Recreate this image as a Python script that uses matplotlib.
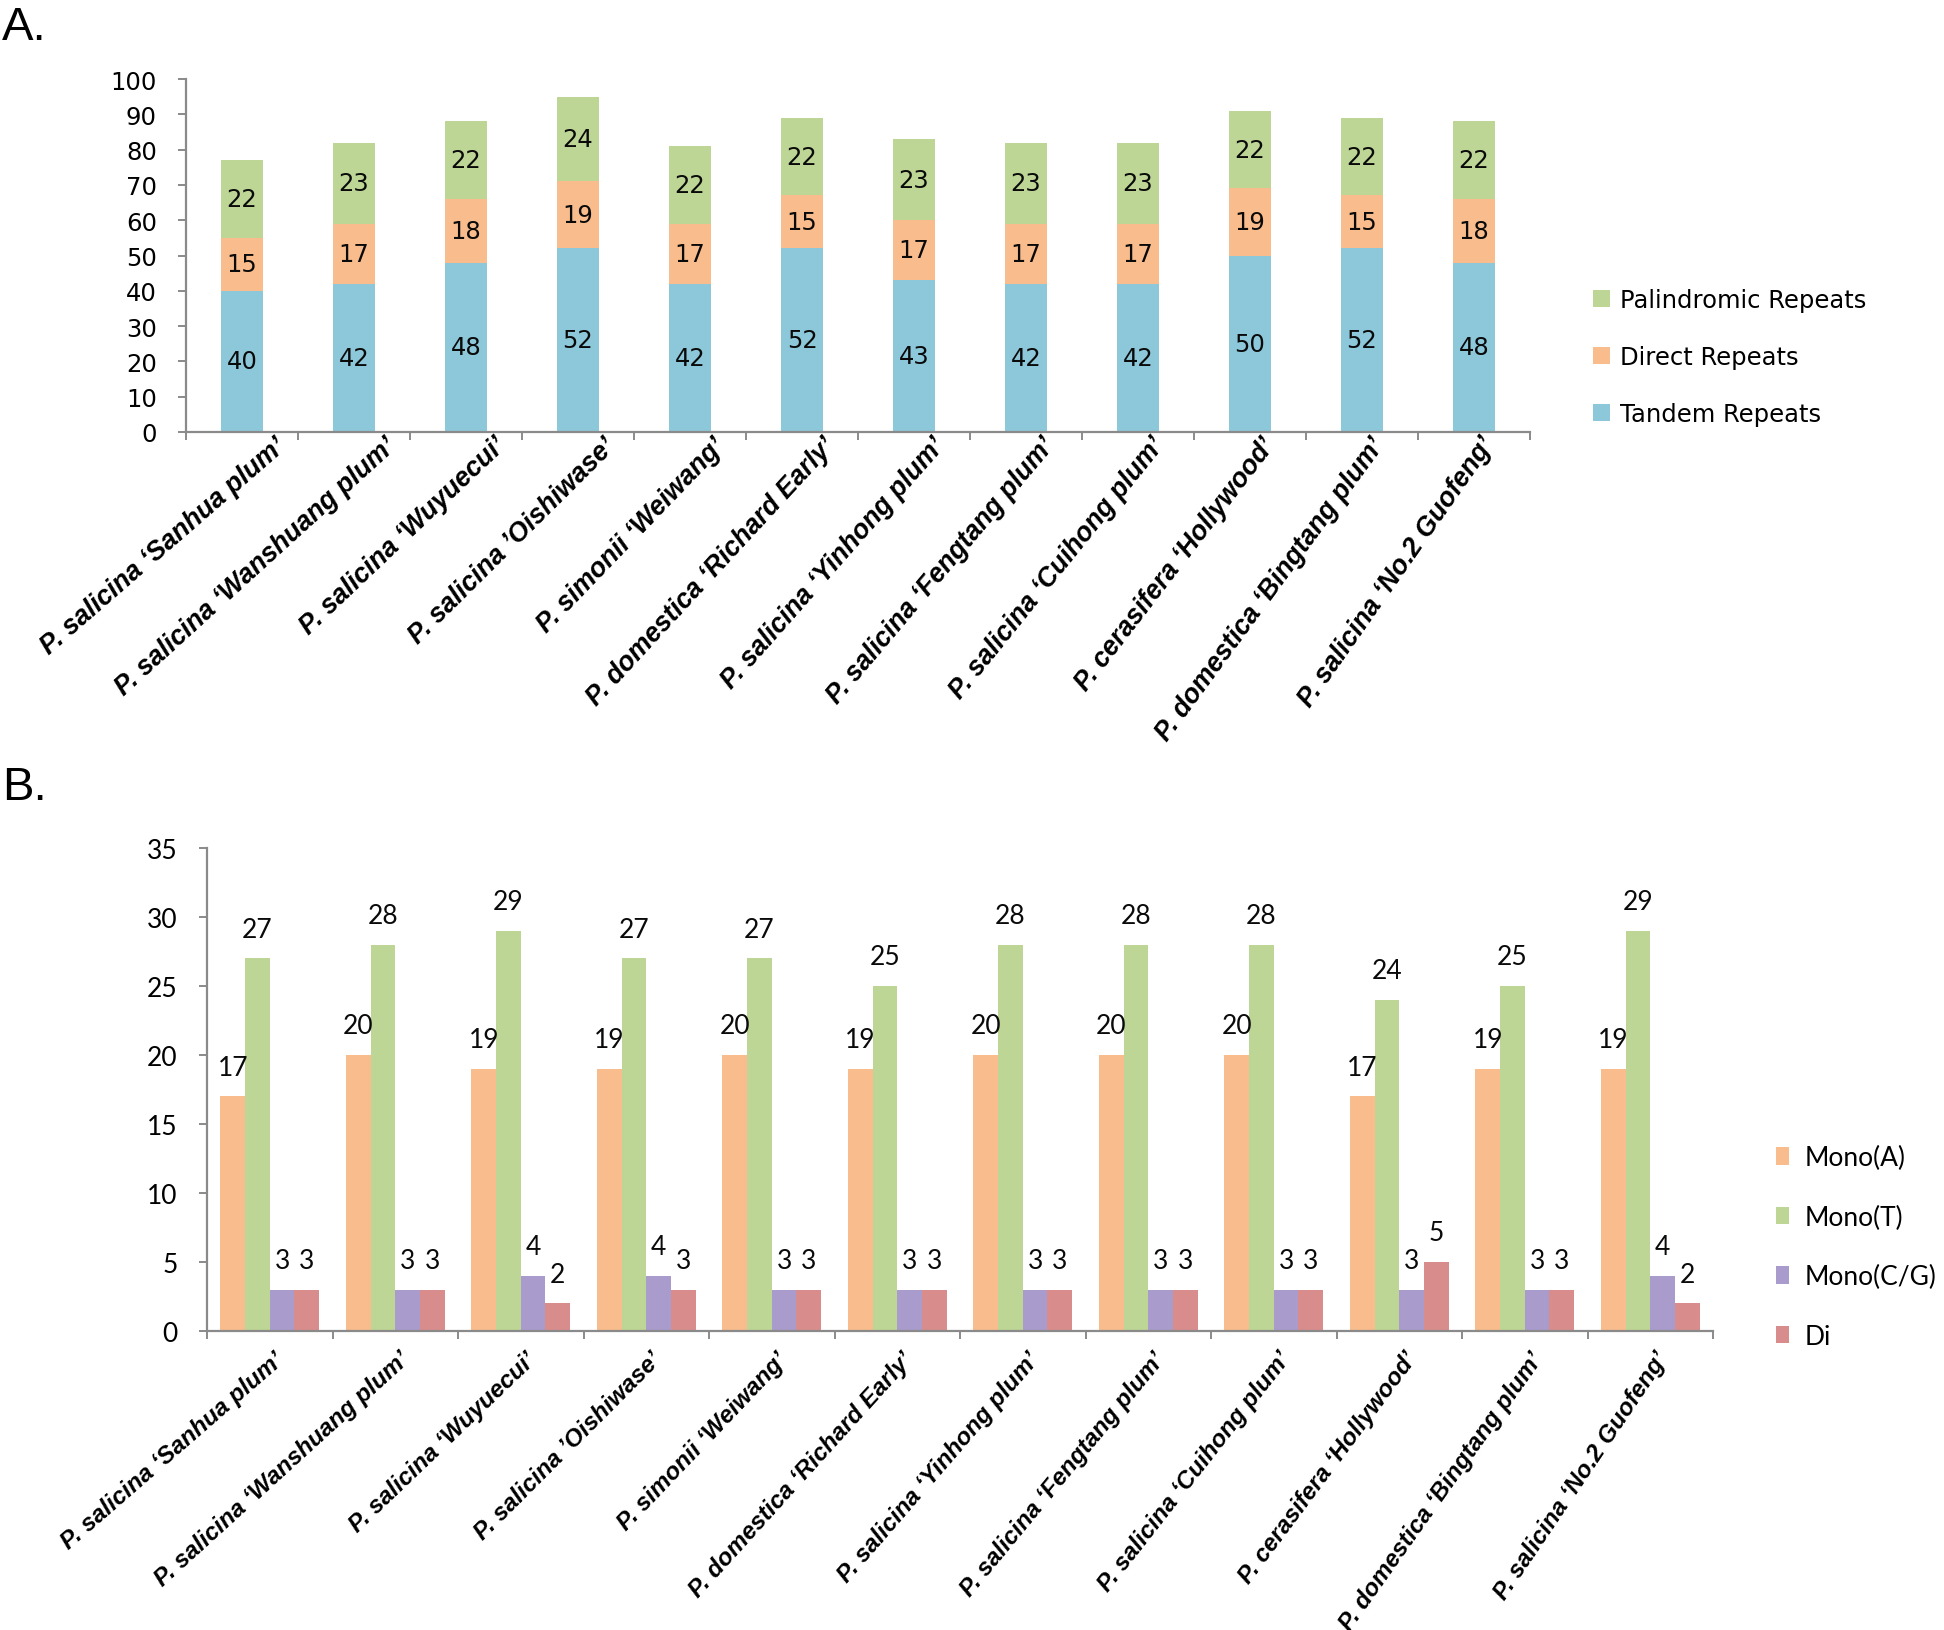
import numpy as np
import matplotlib.pyplot as plt
from matplotlib.transforms import ScaledTranslation

W, H = 1944, 1631

cultivars = ["P. salicina \u2018Sanhua plum\u2019",
             "P. salicina \u2018Wanshuang plum\u2019",
             "P. salicina \u2018Wuyuecui\u2019",
             "P. salicina \u2019Oishiwase\u2019",
             "P. simonii \u2018Weiwang\u2019",
             "P. domestica \u2018Richard Early\u2019",
             "P. salicina \u2018Yinhong plum\u2019",
             "P. salicina \u2018Fengtang plum\u2019",
             "P. salicina \u2018Cuihong plum\u2019",
             "P. cerasifera \u2018Hollywood\u2019",
             "P. domestica \u2018Bingtang plum\u2019",
             "P. salicina \u2018No.2 Guofeng\u2019"]

# panel A: repeat counts
tandem = [40, 42, 48, 52, 42, 52, 43, 42, 42, 50, 52, 48]
direct = [15, 17, 18, 19, 17, 15, 17, 17, 17, 19, 15, 18]
palin = [22, 23, 22, 24, 22, 22, 23, 23, 23, 22, 22, 22]

# panel B: SSR types
mono_a = [17, 20, 19, 19, 20, 19, 20, 20, 20, 17, 19, 19]
mono_t = [27, 28, 29, 27, 27, 25, 28, 28, 28, 24, 25, 29]
mono_cg = [3, 3, 4, 4, 3, 3, 3, 3, 3, 3, 3, 4]
di = [3, 3, 2, 3, 3, 3, 3, 3, 3, 5, 3, 2]

c_blue = "#8DC8DA"
c_orange = "#F9BC8C"
c_green = "#BDD595"
c_purple = "#A99BCC"
c_red = "#D98C8C"
axis_col = "#8a8a8a"

fig = plt.figure(figsize=(W / 100, H / 100), dpi=100)


def style_axes(ax):
    for s in ["top", "right"]:
        ax.spines[s].set_visible(False)
    for s in ["left", "bottom"]:
        ax.spines[s].set_color(axis_col)
        ax.spines[s].set_linewidth(1.6)
    ax.tick_params(axis="both", which="major", color=axis_col, width=1.4, length=6)
    ax.tick_params(axis="y", pad=15)
    ax.tick_params(axis="x", which="minor", length=0)


def set_cat_labels(ax, n, fsize, dx0, dx1, dy, ang0, ang1):
    ax.set_xticks(np.arange(n + 1))
    ax.set_xticklabels([])
    ax.set_xticks(np.arange(n) + 0.5, minor=True)
    labs = ax.set_xticklabels(cultivars, minor=True, ha="right", va="top",
                              rotation_mode="anchor", fontsize=fsize, style="italic",
                              weight="bold", family="Liberation Sans")
    ax.tick_params(axis="x", which="minor", pad=0)
    # the source picture is slightly skewed: labels get steeper to the right
    for k, t in enumerate(labs):
        f = k / (n - 1)
        t.set_rotation(ang0 + (ang1 - ang0) * f)
        dx = dx0 + (dx1 - dx0) * f
        off = ScaledTranslation(dx / 100, dy / 100, fig.dpi_scale_trans)
        t.set_transform(t.get_transform() + off)


# ---------------- A ----------------
axA = fig.add_axes([186 / W, 1 - 433 / H, 1344 / W, 353 / H])
x = np.arange(12) + 0.5
bw = 0.37
b1 = axA.bar(x, tandem, bw, color=c_blue, label="Tandem Repeats")
b2 = axA.bar(x, direct, bw, bottom=tandem, color=c_orange, label="Direct Repeats")
bot2 = np.array(tandem) + np.array(direct)
b3 = axA.bar(x, palin, bw, bottom=bot2, color=c_green, label="Palindromic Repeats")
for bars in (b1, b2, b3):
    axA.bar_label(bars, label_type="center", fontsize=17.5, family="DejaVu Sans",
                  color="#0a0a0a")
axA.set_xlim(0, 12)
axA.set_ylim(0, 100)
axA.set_yticks(np.arange(0, 101, 10))
style_axes(axA)
axA.tick_params(axis="y", labelsize=17.5)
for t in axA.get_yticklabels():
    t.set_family("DejaVu Sans")
set_cat_labels(axA, 12, 19.2, 32, 5, 0, 41, 55)
fig.legend(handles=[b3, b2, b1], loc="center left",
           bbox_to_anchor=(1571 / W, 1 - 358 / H), frameon=False,
           prop={"family": "DejaVu Sans", "size": 17.5},
           handlelength=0.7, handleheight=0.7, handletextpad=0.4, labelspacing=1.36)

# ---------------- B ----------------
axB = fig.add_axes([207 / W, 1 - 1332 / H, 1506 / W, 483 / H])
bw2 = 0.197
series = [(mono_a, c_orange, "Mono(A)"), (mono_t, c_green, "Mono(T)"),
          (mono_cg, c_purple, "Mono(C/G)"), (di, c_red, "Di")]
bhandles = []
for i, (vals, col, name) in enumerate(series):
    bb = axB.bar(x + (i - 1.5) * bw2, vals, bw2, color=col, label=name)
    axB.bar_label(bb, padding=12, fontsize=19, family="Lato", color="#0a0a0a")
    bhandles.append(bb)
axB.set_xlim(0, 12)
axB.set_ylim(0, 35)
axB.set_yticks(np.arange(0, 36, 5))
style_axes(axB)
axB.tick_params(axis="y", labelsize=19)
for t in axB.get_yticklabels():
    t.set_family("Lato")
set_cat_labels(axB, 12, 17.4, 4, 4, -16, 41, 56)
fig.legend(handles=bhandles, loc="center left",
           bbox_to_anchor=(1752 / W, 1 - 1248 / H), frameon=False,
           prop={"family": "Lato", "size": 19},
           handlelength=0.5, handleheight=0.65, handletextpad=0.6, labelspacing=1.3)

fig.text(2 / W, 1 - 6 / H, "A.", fontsize=34, family="Liberation Sans", va="top")
fig.text(2 / W, 1 - 766 / H, "B.", fontsize=34, family="Liberation Sans", va="top")

fig.savefig("out.png", dpi=100, facecolor="white")
